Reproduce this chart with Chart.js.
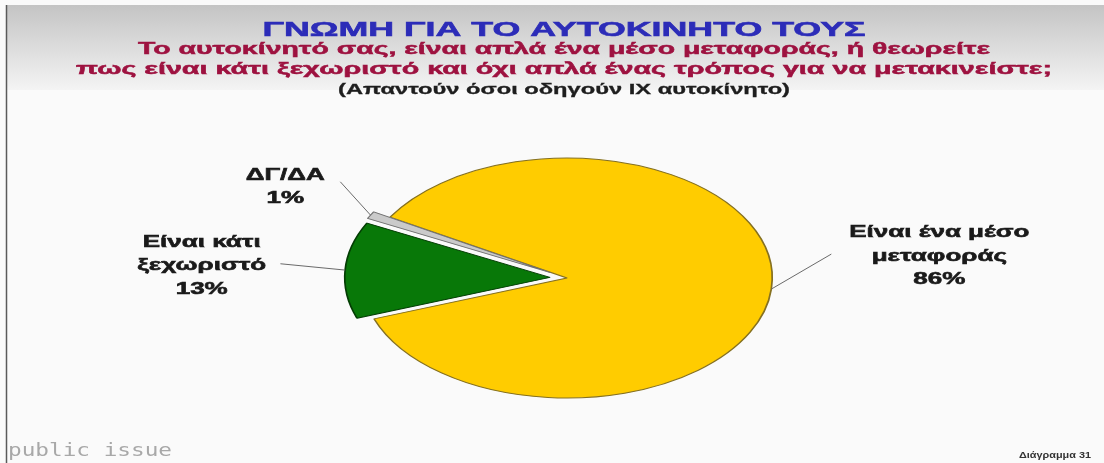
<!DOCTYPE html>
<html lang="el">
<head>
  <meta charset="UTF-8">
  <title>ΓΝΩΜΗ ΓΙΑ ΤΟ ΑΥΤΟΚΙΝΗΤΟ ΤΟΥΣ</title>
  <script src="https://cdn.jsdelivr.net/npm/chart.js"></script>
  <style>
    html, body { margin: 0; padding: 0; background: #fafafa; }
    #wrap { width: 1104px; height: 463px; position: relative; }
  </style>
</head>
<body>
  <div id="wrap"><canvas id="pieChart"></canvas></div>

  <script>
    // data
    const categories = ['Είναι ένα μέσο μεταφοράς', 'Είναι κάτι ξεχωριστό', 'ΔΓ/ΔΑ'];
    const labelLines = [['Είναι ένα μέσο', 'μεταφοράς'], ['Είναι κάτι', 'ξεχωριστό'], ['ΔΓ/ΔΑ']];
    const values = [86, 13, 1];

    const title = 'ΓΝΩΜΗ ΓΙΑ ΤΟ ΑΥΤΟΚΙΝΗΤΟ ΤΟΥΣ';
    const subtitle = ['Το αυτοκίνητό σας, είναι απλά ένα μέσο μεταφοράς, ή θεωρείτε',
                      'πως είναι κάτι ξεχωριστό και όχι απλά ένας τρόπος για να μετακινείστε;'];
    const note = '(Απαντούν όσοι οδηγούν ΙΧ αυτοκίνητο)';
    const footLeft = 'public issue';
    const footRight = 'Διάγραμμα 31';

    // styles
    const sliceColors = ['#ffcc00', '#087808', '#cacaca'];
    const sliceBorders = ['#857020', '#033d03', '#707070'];
    const explode = [0, 10, 11];
    const SX = 1.71;   // the original picture is stretched sideways
    const TX = 1.53;   // same for text
    const LABEL_FONT = 'bold 17px "Liberation Sans", Arial, sans-serif';
    const LINE_H = 23.3;
    // leader line (from slice edge) and label offset (from leader end)
    const leaders = [
      { dx: 60, dy: -35, tx: 108, ty: -16.6 },
      { dx: -64.7, dy: -6.3, tx: -78.7, ty: -16.6 },
      { dx: -30.2, dy: -33.3, tx: -55, ty: -1.6 }
    ];

    function drawText(ctx, text, cx, y, font, color, sx, width, weight) {
      ctx.save();
      ctx.font = font;
      ctx.fillStyle = color;
      ctx.strokeStyle = color;
      ctx.textAlign = 'center';
      ctx.textBaseline = 'alphabetic';
      if (width) sx = width / ctx.measureText(text).width;
      ctx.translate(cx, y);
      ctx.scale(sx, 1);
      ctx.fillText(text, 0, 0);
      if (weight) {
        ctx.lineWidth = weight;
        ctx.strokeText(text, 0, 0);
      }
      ctx.restore();
    }

    const background = {
      id: 'background',
      beforeDraw(chart) {
        const ctx = chart.ctx;
        const w = chart.width, h = chart.height;
        ctx.save();
        ctx.fillStyle = '#fafafa';
        ctx.fillRect(0, 0, w, h);
        const g = ctx.createLinearGradient(0, 5, 0, 90);
        g.addColorStop(0, '#c4c4c4');
        g.addColorStop(1, '#f4f4f4');
        ctx.fillStyle = g;
        ctx.fillRect(7, 5, w - 7, 85);
        ctx.strokeStyle = '#5a5a5a';
        ctx.lineWidth = 1.5;
        ctx.beginPath();
        ctx.moveTo(6.5, 5);
        ctx.lineTo(6.5, h);
        ctx.stroke();
        ctx.restore();
      }
    };

    const squashPie = {
      id: 'squashPie',
      afterDatasetUpdate(chart, args) {
        args.meta.data.forEach((arc, i) => {
          const mid = (arc.startAngle + arc.endAngle) / 2;
          arc.x += Math.cos(mid) * explode[i];
          arc.y += Math.sin(mid) * explode[i];
        });
      },
      beforeDatasetsDraw(chart) {
        const ctx = chart.ctx;
        const a = chart.chartArea;
        const cx = (a.left + a.right) / 2, cy = (a.top + a.bottom) / 2;
        ctx.save();
        ctx.translate(cx, cy);
        ctx.scale(SX, 1);
        ctx.translate(-cx, -cy);
      },
      afterDatasetsDraw(chart) {
        const ctx = chart.ctx;
        ctx.restore();
        const a = chart.chartArea;
        const cx = (a.left + a.right) / 2;
        chart.getDatasetMeta(0).data.forEach((arc, i) => {
          const mid = (arc.startAngle + arc.endAngle) / 2;
          const px = arc.x + arc.outerRadius * Math.cos(mid);
          const py = arc.y + arc.outerRadius * Math.sin(mid);
          const x0 = cx + (px - cx) * SX, y0 = py;
          const l = leaders[i];
          const x1 = x0 + l.dx, y1 = y0 + l.dy;
          ctx.save();
          ctx.strokeStyle = '#6a6a6a';
          ctx.lineWidth = 1;
          ctx.beginPath();
          ctx.moveTo(x0, y0);
          ctx.lineTo(x1, y1);
          ctx.stroke();
          ctx.restore();
          const lines = labelLines[i].concat([values[i] + '%']);
          lines.forEach((t, k) => {
            drawText(ctx, t, x1 + l.tx, y1 + l.ty + k * LINE_H, LABEL_FONT, '#1a1a1a', TX, 0, 0.6);
          });
        });
      }
    };

    const headings = {
      id: 'headings',
      afterDraw(chart) {
        const ctx = chart.ctx;
        const c = 564;
        drawText(ctx, title, c, 36, 'bold 21px "Liberation Sans", Arial, sans-serif', '#2c2cb8', 1, 603, 0.6);
        drawText(ctx, subtitle[0], c, 54, 'bold 17px "Liberation Sans", Arial, sans-serif', '#9e1240', 1, 852, 0.5);
        drawText(ctx, subtitle[1], c, 74, 'bold 17px "Liberation Sans", Arial, sans-serif', '#9e1240', 1, 976, 0.5);
        drawText(ctx, note, c, 94, 'bold 14.5px "Liberation Sans", Arial, sans-serif', '#1e1e1e', 1, 452, 0.3);
        ctx.save();
        ctx.font = '18px "DejaVu Sans Mono", monospace';
        ctx.fillStyle = '#a8a8a8';
        ctx.textBaseline = 'alphabetic';
        const w = ctx.measureText(footLeft).width;
        ctx.translate(8, 456);
        ctx.scale(164 / w, 1);
        ctx.fillText(footLeft, 0, 0);
        ctx.restore();
        drawText(ctx, footRight, 1055, 458, 'bold 9px "Liberation Sans", Arial, sans-serif', '#333333', 1, 72);
      }
    };

    const ctx = document.getElementById('pieChart').getContext('2d');
    const chart = new Chart(ctx, {
      type: 'pie',
      data: {
        labels: categories,
        datasets: [{
          data: values,
          backgroundColor: sliceColors,
          borderColor: sliceBorders,
          borderWidth: [1, 1, 0.8],
          radius: 120
        }]
      },
      options: {
        animation: false,
        responsive: true,
        maintainAspectRatio: false,
        events: [],
        rotation: 300.5,
        layout: { padding: { left: 130, right: 100, top: 140, bottom: 47 } },
        plugins: {
          legend: { display: false },
          tooltip: { enabled: false },
          title: { display: false }
        }
      },
      plugins: [background, squashPie, headings]
    });
  </script>
</body>
</html>
